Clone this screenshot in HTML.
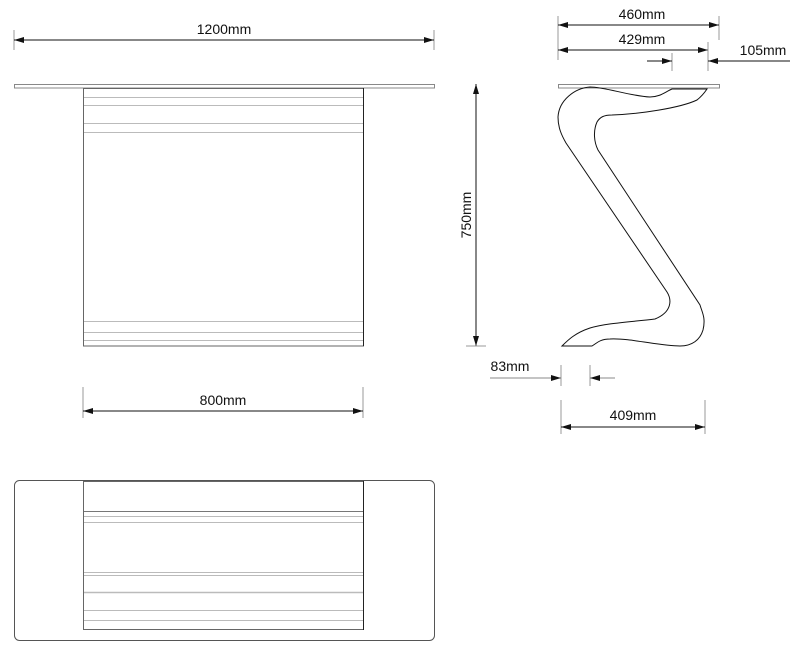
<!DOCTYPE html>
<html><head><meta charset="utf-8"><style>html,body{margin:0;padding:0;background:#fff}svg{display:block}text{font-family:"Liberation Sans",sans-serif;font-size:14px;fill:#111}</style></head><body>
<svg width="800" height="656" viewBox="0 0 800 656">
<defs>
<marker id="a" viewBox="0 0 10 6" refX="10" refY="3" markerWidth="10" markerHeight="6" orient="auto-start-reverse" markerUnits="userSpaceOnUse"><path d="M0,0L10,3L0,6Z" fill="#111"/></marker>
</defs>
<g stroke="#111" stroke-width="1" fill="none">
<!-- 1200mm -->
<line x1="14" y1="30" x2="14" y2="50" stroke="#999"/><line x1="434" y1="30" x2="434" y2="50" stroke="#999"/>
<line x1="14" y1="40" x2="434" y2="40" marker-start="url(#a)" marker-end="url(#a)"/>
<!-- 800mm -->
<line x1="83" y1="387" x2="83" y2="418" stroke="#999"/><line x1="363" y1="387" x2="363" y2="418" stroke="#999"/>
<line x1="83" y1="411" x2="363" y2="411" marker-start="url(#a)" marker-end="url(#a)"/>
<!-- 750mm -->
<line x1="476" y1="84" x2="476" y2="346" marker-start="url(#a)" marker-end="url(#a)"/>
<line x1="466" y1="346" x2="486" y2="346" stroke="#999"/>
<!-- 460 -->
<line x1="558" y1="16" x2="558" y2="60" stroke="#999"/><line x1="719" y1="16" x2="719" y2="40" stroke="#999"/>
<line x1="558" y1="25" x2="719" y2="25" marker-start="url(#a)" marker-end="url(#a)"/>
<line x1="558" y1="50" x2="708" y2="50" marker-start="url(#a)" marker-end="url(#a)"/>
<line x1="708" y1="42" x2="708" y2="71" stroke="#999"/><line x1="672" y1="53" x2="672" y2="71" stroke="#999"/>
<line x1="647" y1="61" x2="672" y2="61" marker-end="url(#a)"/>
<line x1="790" y1="61" x2="708" y2="61" marker-end="url(#a)"/>
<!-- 83 -->
<line x1="561" y1="365" x2="561" y2="386" stroke="#999"/><line x1="590" y1="365" x2="590" y2="386" stroke="#999"/>
<line x1="490" y1="378" x2="561" y2="378" marker-end="url(#a)" stroke="#888"/>
<line x1="615" y1="378" x2="590" y2="378" marker-end="url(#a)" stroke="#888"/>
<!-- 409 -->
<line x1="561" y1="400" x2="561" y2="434" stroke="#999"/><line x1="705" y1="400" x2="705" y2="434" stroke="#999"/>
<line x1="561" y1="427" x2="705" y2="427" marker-start="url(#a)" marker-end="url(#a)"/>
</g>
<!-- front view -->
<g fill="none">
<rect x="14.5" y="84.5" width="420" height="3.5" stroke="#888"/>
<rect x="83.5" y="88.5" width="280" height="257.5" stroke="#666"/>
<line x1="363.5" y1="88" x2="363.5" y2="346" stroke="#222"/>
<g stroke="#bbb"><line x1="84" y1="97.5" x2="363" y2="97.5"/><line x1="84" y1="105.5" x2="363" y2="105.5"/><line x1="84" y1="123.5" x2="363" y2="123.5"/><line x1="84" y1="132.5" x2="363" y2="132.5"/>
<line x1="84" y1="321.5" x2="363" y2="321.5"/><line x1="84" y1="332.5" x2="363" y2="332.5"/><line x1="84" y1="340.5" x2="363" y2="340.5"/></g>
<!-- top view -->
<rect x="14.5" y="480.5" width="420" height="160" rx="5" stroke="#555"/>
<rect x="83.5" y="481.5" width="280" height="148" stroke="#666"/>
<line x1="363.5" y1="481" x2="363.5" y2="630" stroke="#222"/>
<line x1="84" y1="511.5" x2="363" y2="511.5" stroke="#777"/>
<g stroke="#bbb"><line x1="84" y1="516.5" x2="363" y2="516.5"/><line x1="84" y1="522.5" x2="363" y2="522.5"/><line x1="84" y1="572.5" x2="363" y2="572.5"/><line x1="84" y1="575.5" x2="363" y2="575.5"/><line x1="84" y1="592.5" x2="363" y2="592.5" stroke-width="1.5"/><line x1="84" y1="610.5" x2="363" y2="610.5"/><line x1="84" y1="620.5" x2="363" y2="620.5"/></g>
<!-- side view -->
<rect x="558.5" y="84.5" width="161" height="3.5" stroke="#888"/>
<path d="M590,87 C575,88 559,100 558,117 C558,128 562,136 566,143 L667,292 C672,300 672,312 655,319 C630,322 607,323 590,328 C575,333 568,340 562,346 L592,346 C597,343 600,339 610,339 C630,338 660,346 680,346 C692,346 700,340 703,330 C706,318 702,312 700,305 L598,150 C594,142 593,131 597,122 C600,117 604,115 612,115 C640,114 680,108 697,100 C702,96 705,92 707,89 L672,89 C665,92 660,97 650,97 C630,96 605,87 590,87 Z" stroke="#111" stroke-width="1"/>
</g>
<text x="224" y="34" text-anchor="middle">1200mm</text>
<text x="223" y="405" text-anchor="middle">800mm</text>
<text x="642" y="19" text-anchor="middle">460mm</text>
<text x="642" y="44" text-anchor="middle">429mm</text>
<text x="763" y="55" text-anchor="middle">105mm</text>
<text x="510" y="371" text-anchor="middle">83mm</text>
<text x="633" y="420" text-anchor="middle">409mm</text>
<text transform="translate(471,215) rotate(-90)" text-anchor="middle">750mm</text>
</svg>
</body></html>
